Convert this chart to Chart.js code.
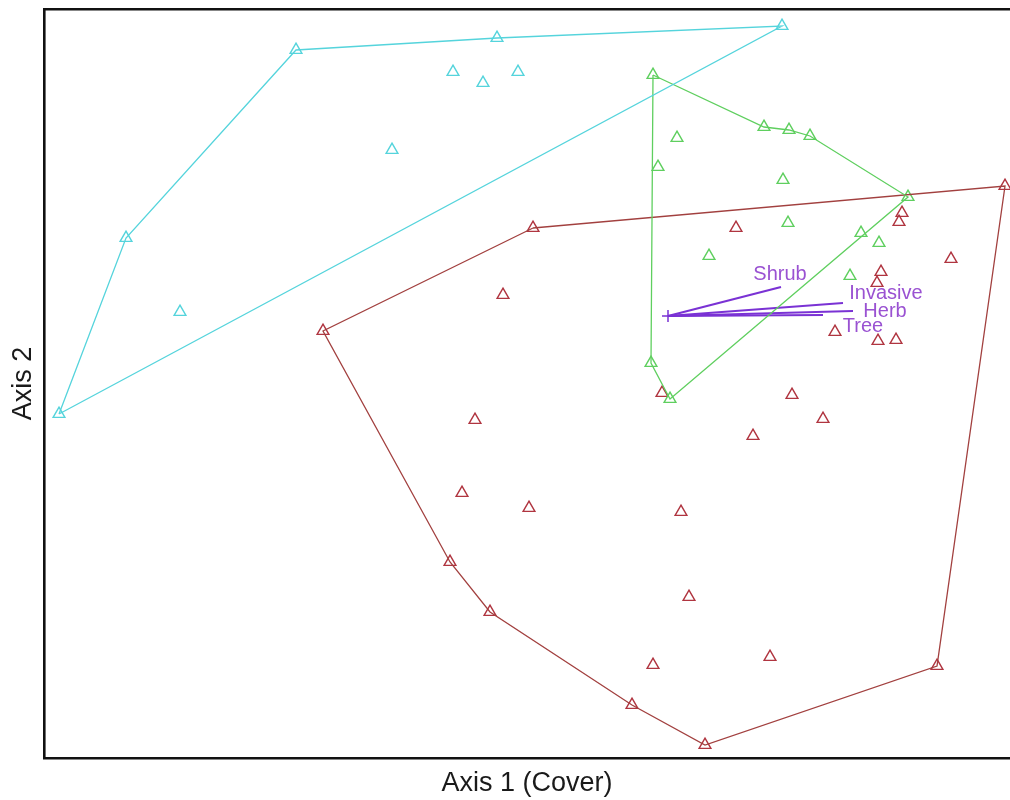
<!DOCTYPE html>
<html>
<head>
<meta charset="utf-8">
<script src="https://cdn.jsdelivr.net/npm/chart.js@4/dist/chart.umd.min.js"></script>
<style>
  html, body { margin: 0; padding: 0; background: #ffffff; }
  #wrap { width: 1010px; height: 800px; }
</style>
</head>
<body>
<div id="wrap"><canvas id="c" width="1010" height="800"></canvas></div>
<script>
// ---- Ordination site scores (axis 2 grows downward in these units) ----
const cyanSitesX = [59, 126, 296, 497, 782, 453, 483, 518, 392, 180];
const cyanSitesY = [414, 238, 50, 38, 26, 72, 83, 72, 150, 312];
const cyanHullX = [59, 126, 296, 497, 782, 59];
const cyanHullY = [414, 238, 50, 38, 26, 414];

const greenSitesX = [653, 677, 658, 764, 789, 810, 783, 908, 788, 861, 879, 709, 850, 651, 670];
const greenSitesY = [75, 138, 167, 127, 130, 136, 180, 197, 223, 233, 243, 256, 276, 363, 399];
const greenHullX = [653, 764, 789, 810, 908, 670, 651, 653];
const greenHullY = [75, 127, 130, 136, 197, 399, 363, 75];

const redSitesX = [533, 1005, 323, 450, 490, 632, 705, 937, 736, 503, 902, 899, 951, 881, 877,
                   835, 878, 896, 662, 792, 823, 753, 475, 462, 529, 681, 689, 653, 770];
const redSitesY = [228, 186, 331, 562, 612, 705, 745, 666, 228, 295, 213, 222, 259, 272, 283,
                   332, 341, 340, 393, 395, 419, 436, 420, 493, 508, 512, 597, 665, 657];
const redHullX = [533, 1005, 937, 705, 632, 490, 450, 323, 533];
const redHullY = [228, 186, 666, 745, 705, 612, 562, 331, 228];

// ---- Biplot vectors (overlay) ----
const vecNames = ["Shrub", "Invasive", "Herb", "Tree"];
const vecOriginX = 668;
const vecOriginY = 316;
const vecEndX = [781, 843, 853, 823];
const vecEndY = [287, 303, 311, 315];
const vecLabelX = [780, 886, 885, 863];
const vecLabelY = [274, 293, 311, 326];

const CYAN = '#55d4dc';
const GREEN = '#5fcf5f';
const RED_PT = '#b03540';
const RED_LN = '#a2403f';
const PURPLE = '#7a32d4';
const PURPLE_TXT = '#9a52d2';

function pts(xs, ys) { return xs.map((x, i) => ({ x: x, y: ys[i] })); }

const datasets = [];
function hull(xs, ys, color) {
  datasets.push({ type: 'line', data: pts(xs, ys), borderColor: color, borderWidth: 1.3,
    pointRadius: 0, fill: false, tension: 0, showLine: true });
}
function sites(xs, ys, color) {
  datasets.push({ type: 'scatter', data: pts(xs, ys), pointStyle: 'triangle', pointRadius: 6.8,
    borderColor: color, backgroundColor: 'rgba(0,0,0,0)', pointBorderWidth: 1.4, borderWidth: 1.4 });
}
hull(cyanHullX, cyanHullY, CYAN);
hull(greenHullX, greenHullY, GREEN);
hull(redHullX, redHullY, RED_LN);
sites(cyanSitesX, cyanSitesY, CYAN);
sites(greenSitesX, greenSitesY, GREEN);
sites(redSitesX, redSitesY, RED_PT);
vecNames.forEach((n, i) => {
  datasets.push({ type: 'line', label: n,
    data: [{ x: vecOriginX, y: vecOriginY }, { x: vecEndX[i], y: vecEndY[i] }],
    borderColor: PURPLE, borderWidth: 2.2, pointRadius: 0, fill: false });
});
datasets.push({ type: 'scatter', data: [{ x: vecOriginX, y: vecOriginY }], pointStyle: 'cross',
  pointRadius: 6, borderColor: PURPLE, pointBorderWidth: 1.5, backgroundColor: PURPLE });

const vecLabels = {
  id: 'vecLabels',
  afterDatasetsDraw(chart) {
    const { ctx, scales: { x, y } } = chart;
    ctx.save();
    ctx.font = '20px "Liberation Sans", Arial, sans-serif';
    ctx.fillStyle = PURPLE_TXT;
    ctx.textAlign = 'center';
    ctx.textBaseline = 'middle';
    vecNames.forEach((n, i) => {
      ctx.fillText(n, x.getPixelForValue(vecLabelX[i]), y.getPixelForValue(vecLabelY[i]));
    });
    ctx.restore();
  }
};

const titleFont = { family: '"Liberation Sans", Arial, sans-serif', size: 27 };

new Chart(document.getElementById('c'), {
  data: { datasets: datasets },
  options: {
    responsive: false,
    animation: false,
    devicePixelRatio: 1,
    layout: { autoPadding: false, padding: { left: 0, right: 0, top: 9, bottom: 0 } },
    plugins: { legend: { display: false }, tooltip: { enabled: false } },
    scales: {
      x: {
        type: 'linear', position: 'bottom', min: 44, max: 1010,
        ticks: { display: false }, grid: { display: false, drawTicks: false },
        border: { display: true, color: '#111', width: 2.6 },
        title: { display: true, text: 'Axis 1 (Cover)', color: '#1a1a1a', font: titleFont,
                 padding: { top: 9.6, bottom: 0 } }
      },
      x2: {
        type: 'linear', position: 'top', min: 44, max: 1010,
        ticks: { display: false }, grid: { display: false, drawTicks: false },
        border: { display: true, color: '#111', width: 2.6 }
      },
      y: {
        type: 'linear', position: 'left', min: 9, max: 758, reverse: true,
        ticks: { display: false }, grid: { display: false, drawTicks: false },
        border: { display: true, color: '#111', width: 2.6 },
        title: { display: true, text: 'Axis 2', color: '#1a1a1a', font: titleFont,
                 padding: { top: 7.8, bottom: 3.8 } }
      }
    }
  },
  plugins: [vecLabels]
});
</script>
</body>
</html>
